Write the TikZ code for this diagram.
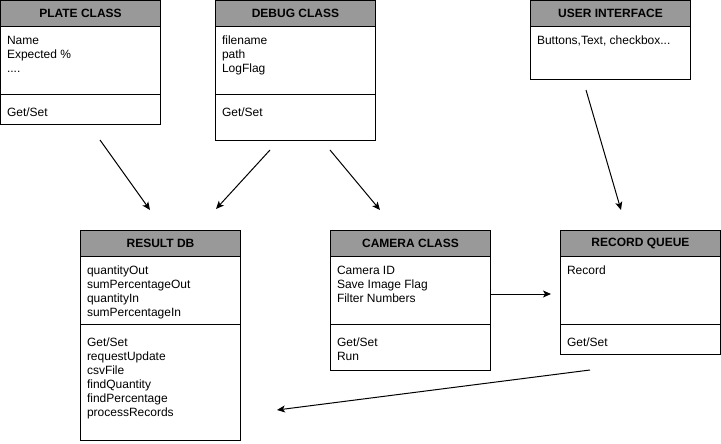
\documentclass[tikz,border=0pt]{standalone}
\usepackage{fontspec}
\setmainfont{Liberation Sans}
\usetikzlibrary{arrows.meta,positioning}
\definecolor{headgray}{RGB}{153,153,153}

\begin{document}
\begin{tikzpicture}[x=1pt,y=-1pt,->,>={Stealth[length=8pt,width=7pt,inset=2pt]},
                    line width=1pt,node distance=0pt,font=\fontsize{12}{14}\selectfont]
  \tikzstyle{head}=[draw,fill=headgray,minimum width=160pt,minimum height=26pt,
                    inner sep=0pt,outer sep=0pt,font=\fontsize{12}{14}\selectfont\bfseries]
  \tikzstyle{part}=[draw,minimum width=160pt,inner sep=0pt,outer sep=0pt]
  \tikzstyle{txt}=[anchor=north west,inner sep=0pt,align=left]

  \useasboundingbox (0,0) rectangle (721,444);

  % top row
  \node[head] (plate)                          at (80.5,13.5)  {PLATE CLASS};
  \node[part,minimum height=68pt] (plateattr)  [below=of plate]     {};
  \node[part,minimum height=30pt] (platemeth)  [below=of plateattr] {};
  \node[head] (debug)                          at (295.5,13.5) {DEBUG CLASS};
  \node[part,minimum height=68pt] (debugattr)  [below=of debug]     {};
  \node[part,minimum height=46pt] (debugmeth)  [below=of debugattr] {};
  \node[head] (user)                           at (610.5,13.5) {USER INTERFACE};
  \node[part,minimum height=53pt] (userbody)   [below=of user]      {};

  % bottom row
  \node[head] (result)                         at (160.5,243.5) {RESULT DB};
  \node[part,minimum height=68pt] (resultattr) [below=of result]     {};
  \node[part,minimum height=116pt] (resultmeth)[below=of resultattr] {};
  \node[head] (camera)                         at (410.5,243.5) {CAMERA CLASS};
  \node[part,minimum height=68pt] (cameraattr) [below=of camera]     {};
  \node[part,minimum height=46pt] (camerameth) [below=of cameraattr] {};
  \node[head] (record)                         at (640.5,243.5) {RECORD QUEUE};
  \node[part,minimum height=68pt] (recordattr) [below=of record]     {};
  \node[part,minimum height=30pt] (recordmeth) [below=of recordattr] {};

  % texts
  \node[txt] (platea)  at ([xshift=6pt,yshift=-9pt]plateattr.north west)   {Name\\Expected \%\\....};
  \node[txt] (platem)  at ([xshift=6pt,yshift=-13pt]platemeth.north west)  {Get/Set};
  \node[txt] (debuga)  at ([xshift=6pt,yshift=-9pt]debugattr.north west)   {filename\\path\\LogFlag};
  \node[txt] (debugm)  at ([xshift=6pt,yshift=-13pt]debugmeth.north west)  {Get/Set};
  \node[txt] (usera)   at ([xshift=6pt,yshift=-9pt]userbody.north west)    {Buttons,Text, checkbox...};
  \node[txt] (resulta) at ([xshift=6pt,yshift=-9pt]resultattr.north west)  {quantityOut\\sumPercentageOut\\quantityIn\\sumPercentageIn};
  \node[txt] (resultm) at ([xshift=6pt,yshift=-13pt]resultmeth.north west) {Get/Set\\requestUpdate\\csvFile\\findQuantity\\findPercentage\\processRecords};
  \node[txt] (cameraa) at ([xshift=6pt,yshift=-9pt]cameraattr.north west)  {Camera ID\\Save Image Flag\\Filter Numbers};
  \node[txt] (cameram) at ([xshift=6pt,yshift=-13pt]camerameth.north west) {Get/Set\\Run};
  \node[txt] (recorda) at ([xshift=6pt,yshift=-9pt]recordattr.north west)  {Record};
  \node[txt] (recordm) at ([xshift=6pt,yshift=-13pt]recordmeth.north west) {Get/Set};

  % arrow ends
  \coordinate (plateout)  at (100,140);
  \coordinate (resultin1) at (150,210);
  \coordinate (debugout1) at (270,150);
  \coordinate (resultin2) at (216,209);
  \coordinate (debugout2) at (330,150);
  \coordinate (camerain)  at (380,210);
  \coordinate (userout)   at (586,90);
  \coordinate (recordin)  at (621,210);
  \coordinate (recordout) at (590,370);
  \coordinate (resultin3) at (277,410);
  \coordinate (recordin2) at (551,294);

  \draw (plateout)  -- (resultin1);
  \draw (debugout1) -- (resultin2);
  \draw (debugout2) -- (camerain);
  \draw (userout)   -- (recordin);
  \draw ([yshift=-3.5pt]cameraattr.east) -- (recordin2);
  \draw (recordout) -- (resultin3);
\end{tikzpicture}
\end{document}
